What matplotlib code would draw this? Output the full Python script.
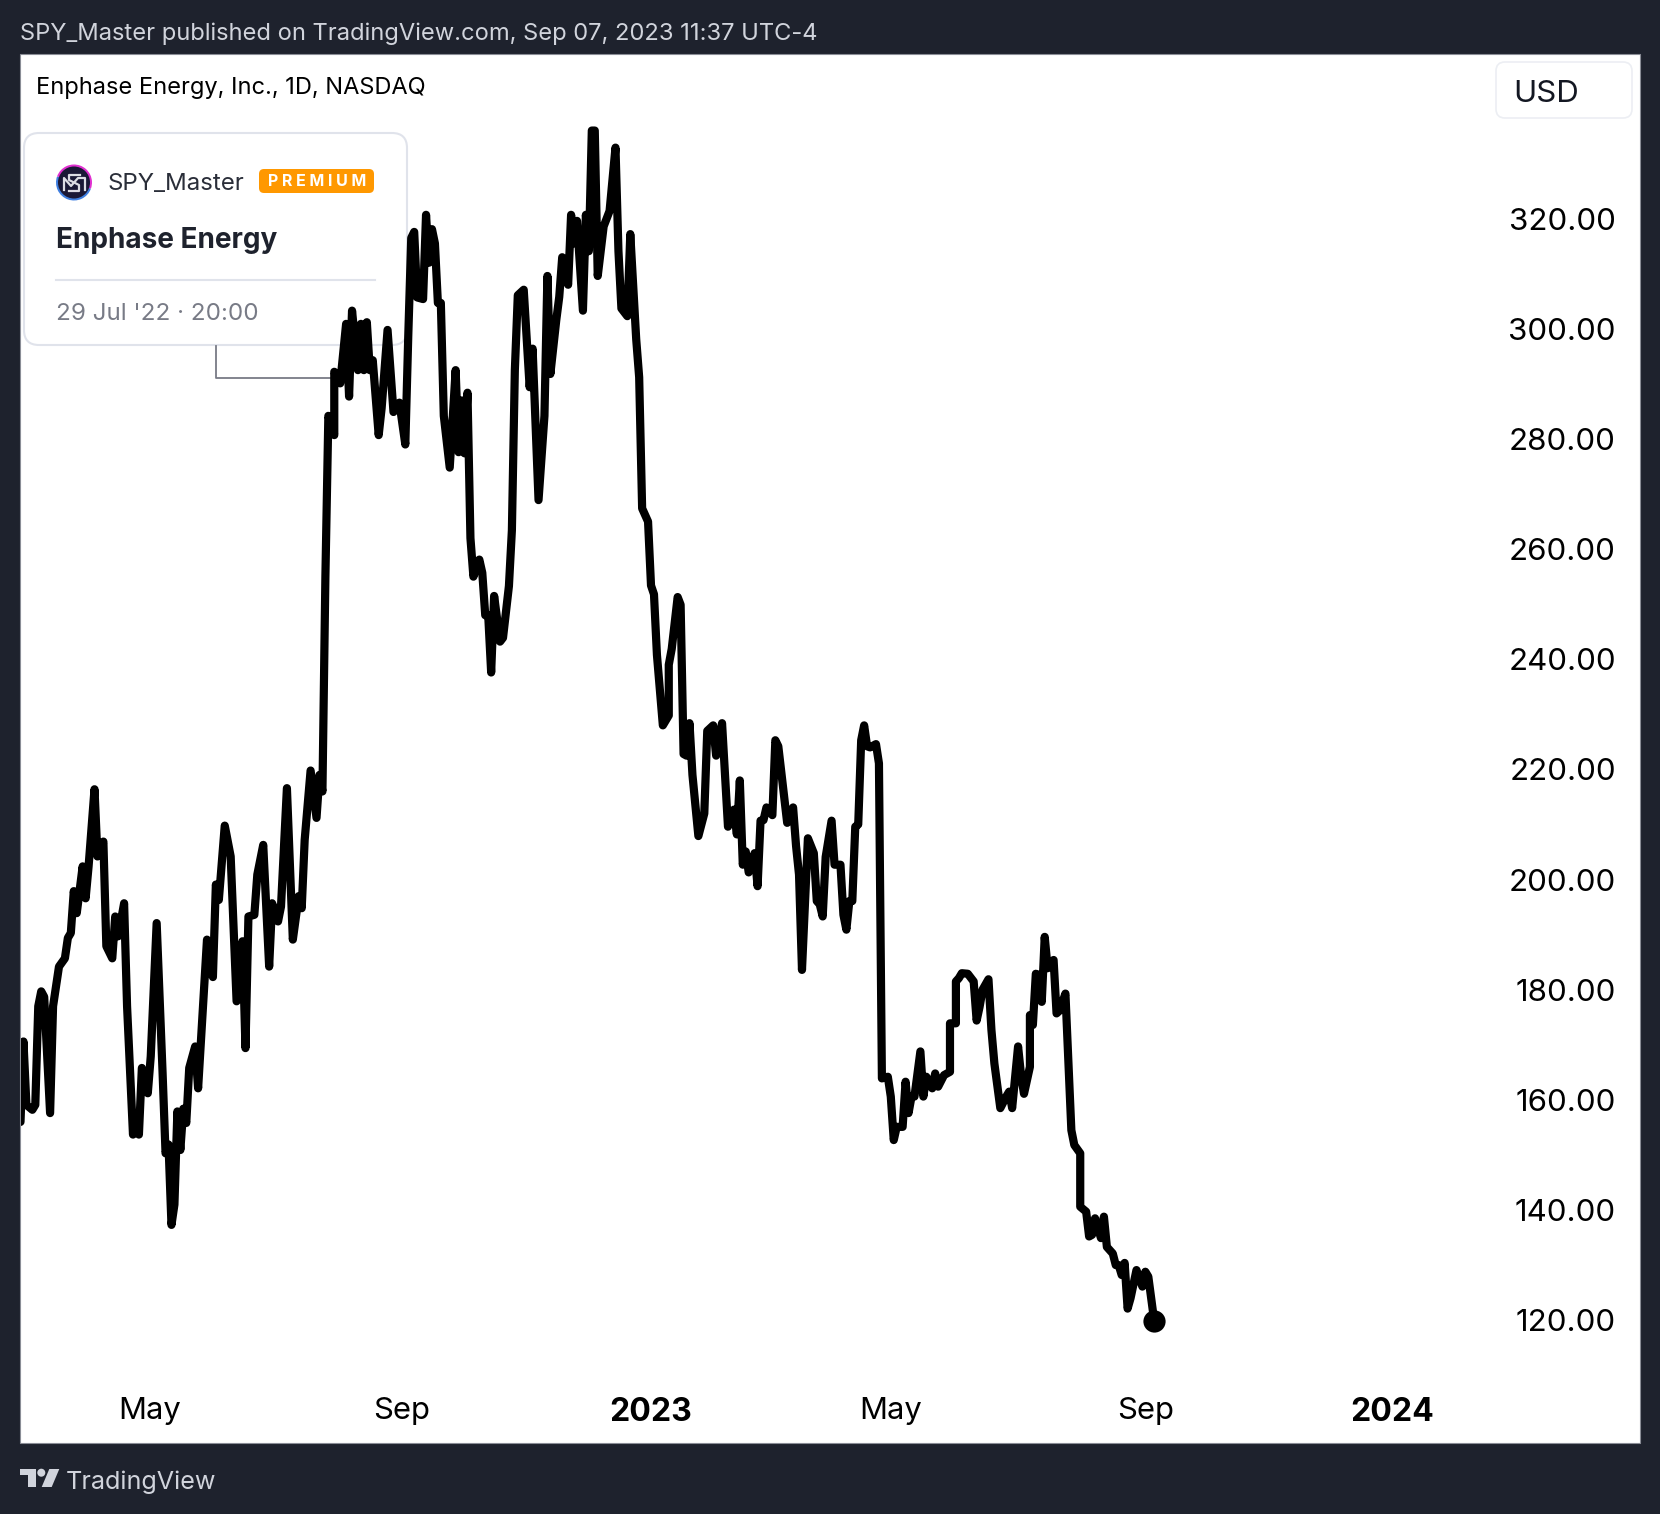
import matplotlib
matplotlib.use("Agg")
from matplotlib import pyplot as plt
from matplotlib.patches import FancyBboxPatch, Circle, Wedge, Polygon

plt.rcParams['font.family'] = ['Inter', 'DejaVu Sans']

# session number (trading days from the left edge) and close in USD
session = [0, 1, 2, 4, 5, 6, 7, 8, 10, 11, 13, 15, 16, 17, 18, 19, 21, 22, 23, 25,
           26, 28, 29, 31, 32, 33, 35, 36, 38, 39, 40, 41, 43, 44, 46, 48, 49, 50, 51, 52,
           53, 54, 55, 56, 57, 59, 60, 63, 65, 66, 67, 69, 71, 73, 75, 76, 77, 79, 80, 82,
           84, 85, 87, 88, 90, 92, 94, 95, 96, 98, 100, 101, 102, 103, 104, 106, 106, 108, 110, 111,
           112, 114, 115, 116, 117, 118, 119, 121, 122, 124, 126, 128, 130, 131, 132, 133, 134, 136, 137, 138,
           139, 140, 141, 142, 143, 145, 147, 148, 149, 150, 151, 152, 153, 155, 156, 157, 158, 159, 160, 162,
           163, 165, 166, 167, 168, 170, 172, 173, 175, 177, 178, 179, 181, 182, 183, 185, 186, 187, 188, 190,
           191, 192, 193, 194, 195, 197, 198, 199, 201, 202, 203, 205, 206, 208, 209, 210, 212, 213, 214, 215,
           217, 219, 219, 220, 222, 223, 224, 225, 226, 227, 229, 231, 232, 234, 235, 237, 239, 241, 242, 243,
           244, 245, 246, 248, 249, 250, 251, 252, 254, 255, 256, 259, 261, 262, 263, 264, 266, 268, 269, 270,
           271, 272, 274, 275, 277, 278, 279, 280, 281, 282, 283, 284, 285, 286, 287, 289, 290, 291, 293, 294,
           295, 296, 298, 299, 300, 301, 302, 304, 305, 306, 308, 309, 310, 312, 314, 314, 316, 316, 317, 318,
           320, 322, 323, 324, 325, 327, 328, 329, 331, 333, 334, 335, 337, 338, 339, 341, 341, 342, 343, 344,
           345, 346, 347, 349, 350, 351, 353, 355, 356, 358, 358, 360, 361, 362, 363, 365, 366, 367, 369, 370,
           371, 372, 373, 374, 375, 377, 379, 380, 381, 383]
close = [156.0, 170.6, 159.1, 158.2, 159.1, 177.0, 179.7, 178.7, 157.6, 177.0, 184.2, 185.7, 189.4, 190.3, 197.9, 193.9, 202.4, 196.6, 202.4, 216.4,
         204.2, 206.9, 187.9, 185.7, 193.3, 189.7, 195.7, 177.0, 153.7, 157.6, 153.7, 165.8, 161.2, 167.9, 192.1, 164.9, 150.3, 151.9, 137.3, 141.0,
         157.9, 150.9, 158.4, 155.8, 165.8, 169.7, 162.1, 189.1, 182.3, 199.1, 196.3, 209.8, 204.2, 177.9, 188.8, 169.4, 193.3, 193.6, 200.9, 206.3,
         184.2, 195.7, 192.4, 195.1, 216.6, 189.1, 197.0, 194.8, 207.2, 219.8, 211.2, 219.0, 216.0, 255.0, 284.2, 280.7, 292.2, 290.1, 300.9, 287.7,
         303.3, 292.5, 300.9, 292.5, 301.2, 292.5, 294.3, 280.7, 285.6, 299.8, 284.9, 286.6, 279.0, 298.8, 316.5, 317.6, 305.7, 305.4, 320.7, 312.0,
         318.1, 315.5, 304.7, 304.7, 284.2, 274.8, 292.5, 277.6, 287.0, 277.4, 288.4, 262.0, 255.0, 258.1, 255.7, 248.0, 248.0, 237.6, 251.5, 243.2,
         243.9, 253.3, 263.4, 292.5, 306.1, 307.1, 289.4, 296.4, 268.9, 284.2, 309.6, 291.8, 301.6, 305.8, 313.0, 308.0, 320.7, 315.5, 319.6, 303.3,
         320.7, 314.1, 336.0, 336.0, 309.6, 318.6, 320.0, 321.4, 332.9, 314.1, 303.7, 302.3, 317.2, 298.1, 291.2, 267.4, 265.0, 253.4, 251.8, 240.8,
         228.0, 229.8, 239.0, 241.9, 251.3, 249.9, 222.8, 222.5, 228.4, 219.0, 207.9, 212.0, 227.0, 228.0, 222.5, 228.4, 209.6, 212.7, 208.2, 218.0,
         202.7, 205.1, 201.3, 204.8, 198.8, 210.7, 210.8, 213.1, 211.7, 225.3, 224.2, 210.3, 213.1, 206.1, 200.9, 183.6, 207.5, 204.8, 196.1, 195.5,
         193.3, 204.1, 210.7, 202.7, 202.7, 193.6, 190.9, 196.1, 196.1, 209.6, 210.0, 225.3, 228.0, 224.2, 224.0, 224.6, 221.1, 163.9, 164.2, 160.6,
         152.7, 155.1, 155.1, 163.3, 157.6, 160.6, 160.6, 168.8, 160.6, 164.2, 162.1, 164.8, 162.4, 164.5, 165.1, 173.9, 173.9, 181.5, 182.1, 183.0,
         182.9, 181.5, 174.4, 176.9, 180.0, 181.9, 172.7, 166.6, 158.5, 160.6, 161.5, 158.5, 169.7, 164.5, 161.1, 166.0, 175.4, 173.6, 182.9, 182.7,
         177.8, 189.6, 183.9, 185.4, 175.7, 176.2, 179.3, 154.5, 151.8, 150.3, 140.6, 139.7, 135.2, 135.5, 138.5, 134.9, 138.8, 133.3, 132.1, 130.0,
         130.0, 128.2, 130.4, 122.1, 124.0, 129.1, 126.1, 128.8, 127.9, 119.8]

price_ticks = [120, 140, 160, 180, 200, 220, 240, 260, 280, 300, 320]
time_ticks = [43.5, 128.6, 213, 293.9, 380, 463.4]
time_labels = ['May', 'Sep', '2023', 'May', 'Sep', '2024']

header = 'SPY_Master published on TradingView.com, Sep 07, 2023 11:37 UTC-4'
symbol = 'Enphase Energy, Inc., 1D, NASDAQ'

dark = '#1e222d'
W, H = 1660, 1514

fig = plt.figure(figsize=(W / 100, H / 100), dpi=100, facecolor=dark)

# page layer in pixels, everything behind the price line
page = fig.add_axes([0, 0, 1, 1], zorder=1)
page.set_xlim(0, W)
page.set_ylim(H, 0)
page.axis('off')

page.add_patch(plt.Rectangle((20, 54), 1620, 1389, fc='white', ec='#8a8d96', lw=0.8))
page.text(20, 33.5, header, color='#d1d4dc', fontsize=17.07, va='center')
page.text(36, 88, symbol, color='black', fontsize=17.0, va='center')

# idea card
page.add_patch(FancyBboxPatch((24, 133), 383, 212, boxstyle='round,pad=0,rounding_size=15',
                              fc='white', ec='#e0e3eb', lw=1.5))
page.plot([216, 216, 335], [346, 378, 378], color='#787b86', lw=1.3)
page.plot([56, 375], [280, 280], color='#e0e3eb', lw=1.5)
page.add_patch(Wedge((74, 182.5), 18, 20, 200, fc='#3f7fe0', lw=0))
page.add_patch(Wedge((74, 182.5), 18, 200, 20, fc='#e030d0', lw=0))
page.add_patch(Circle((74, 182.5), 16, fc='#1a1836', lw=0))
page.plot([64, 64, 71, 78, 85, 85], [190, 178, 186, 178, 178, 190], color='#dcdce4', lw=1.6)
page.plot([80, 69, 69, 79, 79, 69], [175, 175, 180, 185, 191, 191], color='#dcdce4', lw=1.6)
page.text(107.5, 184, 'SPY_Master', color='#2a2e39', fontsize=17.3, va='center')
page.add_patch(FancyBboxPatch((259, 169), 115, 24, boxstyle='round,pad=0,rounding_size=5',
                              fc='#ff9800', lw=0))
page.text(317, 181.5, 'P R E M I U M', color='white', fontsize=11.5, weight='bold',
          ha='center', va='center')
page.text(56, 241, 'Enphase Energy', color='#1e222d', fontsize=20.1, weight='bold', va='center')
page.text(56, 314, "29 Jul '22 · 20:00", color='#787b86', fontsize=17.4, va='center')

# currency button
page.add_patch(FancyBboxPatch((1496, 62), 136, 56, boxstyle='round,pad=0,rounding_size=9',
                              fc='white', ec='#eceef3', lw=1.2))
page.text(1513, 94, 'USD', color='#131722', fontsize=22.5, va='center')

# TradingView logo
page.add_patch(Polygon([(20, 1469), (36, 1469), (36, 1487), (27.5, 1487), (27.5, 1475), (20, 1475)],
                       fc='#d1d4dc', lw=0))
page.add_patch(Circle((41.3, 1472.7), 4, fc='#d1d4dc', lw=0))
page.add_patch(Polygon([(49.3, 1469), (59.3, 1469), (51.7, 1487), (41.7, 1487)], fc='#d1d4dc', lw=0))
page.text(66, 1482, 'TradingView', color='#d1d4dc', fontsize=18.1, va='center')

# chart layer, same rectangle as the white panel
ax = fig.add_axes([20.5 / W, 1 - 1443 / H, 1619.5 / W, 1389 / H], zorder=2)
ax.patch.set_visible(False)
ax.plot(session, close, color='black', lw=5.9, solid_joinstyle='round', solid_capstyle='round')
ax.plot(session[-1], close[-1], 'o', color='black', ms=16, mew=0, clip_on=False)
ax.set_xlim(0, 547.1)
ax.set_ylim(97.7, 349.9)

for s in ax.spines.values():
    s.set_visible(False)

ax.yaxis.tick_right()
ax.set_yticks(price_ticks)
ax.set_yticklabels(['%.2f' % p for p in price_ticks], fontsize=22.5, color='black', ha='right',
                   va='center_baseline')
ax.tick_params(axis='y', length=0, pad=-17.3)

ax.set_xticks(time_ticks)
ax.set_xticklabels(time_labels, fontsize=22.3, color='black')
ax.tick_params(axis='x', length=0, pad=-33)
for lab in ax.get_xticklabels():
    if lab.get_text().isdigit():
        lab.set_fontweight('bold')
        lab.set_fontsize(23)

fig.savefig('out.png', dpi=100, facecolor=dark)
